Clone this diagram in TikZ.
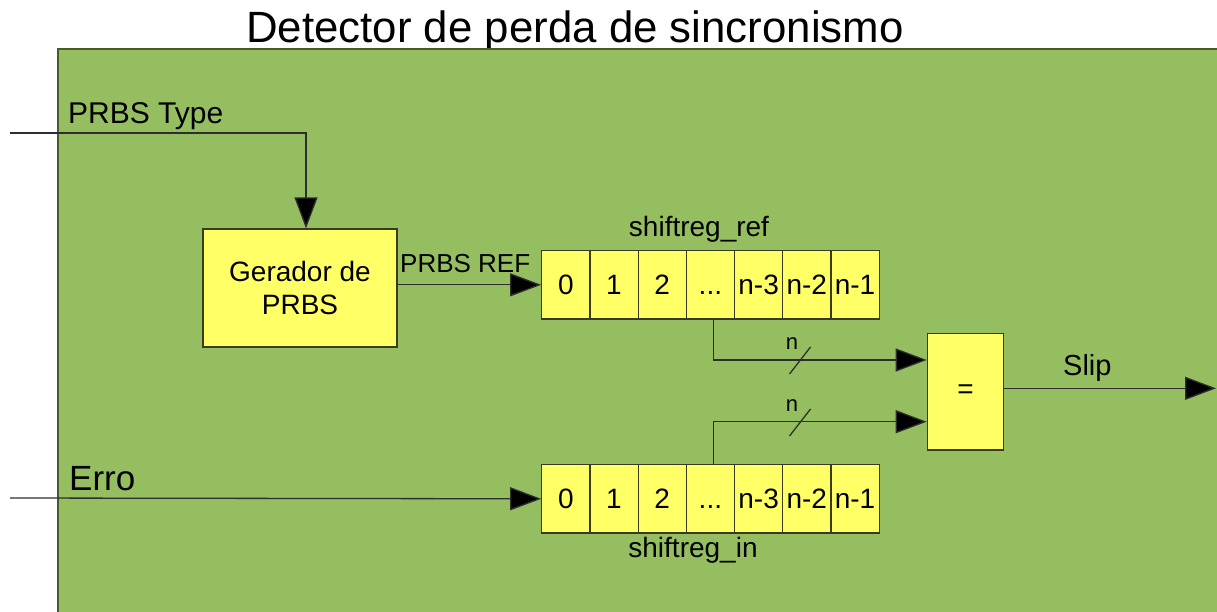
\documentclass[tikz,border=0pt]{standalone}
\usepackage{fontspec}
\setmainfont{Liberation Sans}
\usepackage{xcolor}
\usepackage{tikz}
\usetikzlibrary{arrows.meta, positioning, calc}

\definecolor{panelgreen}{HTML}{95BE60}
\definecolor{paneledge}{HTML}{4C5A2A}
\definecolor{blockyellow}{HTML}{FFFF66}
\definecolor{blockedge}{HTML}{3A3A1E}
\definecolor{wire}{HTML}{2E2E2E}
\newcommand{\pxfont}[2]{\fontsize{#1}{#2}\selectfont}

\begin{document}
\begin{tikzpicture}[x=1pt, y=-1pt,
    panel/.style={draw=paneledge, line width=2pt, fill=panelgreen},
    block/.style={rectangle, draw=blockedge, line width=1.2pt, fill=blockyellow, align=center, inner sep=0pt, font=\pxfont{28}{33}},
    cell/.style={rectangle, draw=blockedge, line width=1.2pt, fill=blockyellow, inner sep=0pt, minimum width=48.2pt, minimum height=68.3pt, text height=20pt, text depth=0pt, font=\pxfont{28}{32}},
    sig/.style={inner sep=0pt, anchor=base west},
    arrow/.style={draw=wire, line width=1.3pt, -{Triangle[length=31pt, width=23pt, fill=black]}},
    busmark/.style={draw=wire, line width=1.3pt}
]
\clip (0,0) rectangle (1217,611);

% Title and system panel
\node[inner sep=0pt, anchor=base, font=\pxfont{43.8}{48}] (title) at (575,42) {Detector de perda de sincronismo};
\draw[panel] (58,49) rectangle (1250,650);

% Inputs
\coordinate (typein) at (10,133);
\coordinate (erroin) at (10,498);
\node[sig, font=\pxfont{30}{34}] (typelbl) at (68,123) {PRBS Type};
\node[sig, font=\pxfont{35}{40}] (errolbl) at (69,490) {Erro};

% PRBS generator
\node[block, minimum width=194pt, minimum height=118pt] (gen) at (300,288) {Gerador de\\PRBS};

% Reference shift register
\node[cell] (sr0) at (565.8,284.8) {0};
\node[cell] (sr1) at (614.0,284.8) {1};
\node[cell] (sr2) at (662.2,284.8) {2};
\node[cell] (sr3) at (710.4,284.8) {...};
\node[cell] (sr4) at (758.6,284.8) {n-3};
\node[cell] (sr5) at (806.8,284.8) {n-2};
\node[cell] (sr6) at (855.0,284.8) {n-1};
\node[inner sep=0pt, anchor=base, font=\pxfont{28}{32}] (srlbl) at (699,236) {shiftreg\_ref};

% Input shift register
\node[cell] (si0) at (565.8,498.8) {0};
\node[cell] (si1) at (614.0,498.8) {1};
\node[cell] (si2) at (662.2,498.8) {2};
\node[cell] (si3) at (710.4,498.8) {...};
\node[cell] (si4) at (758.6,498.8) {n-3};
\node[cell] (si5) at (806.8,498.8) {n-2};
\node[cell] (si6) at (855.0,498.8) {n-1};
\node[inner sep=0pt, anchor=base, font=\pxfont{28}{32}] (silbl) at (693,557) {shiftreg\_in};

% Comparator
\node[block, minimum width=76.4pt, minimum height=116.7pt] (cmp) at (965.5,391.7) {=};
\coordinate (slipout) at (1216,388.3);
\node[sig, font=\pxfont{29}{33}] (sliplbl) at (1063,375) {Slip};

% Connections
\draw[arrow] (typein) -| ([xshift=6pt]gen.north);
\draw[arrow] (gen.east |- sr0.west) -- (sr0.west);
\node[sig, font=\pxfont{26}{30}] (reflbl) at (400,272) {PRBS REF};
\draw[arrow] (erroin) -- (si0.west);
\draw[arrow] ([xshift=3pt]sr3.south) |- ([yshift=31.7pt]cmp.west);
\draw[arrow] ([xshift=3pt]si3.north) |- ([yshift=-30pt]cmp.west);
\draw[arrow] (cmp.east |- slipout) -- (slipout);

% Bus width marks
\coordinate (bus1) at (800,360.5);
\coordinate (bus2) at (800,422.5);
\draw[busmark] ([shift={(-10.5,13.5)}]bus1) -- ([shift={(10.5,-13.5)}]bus1);
\draw[busmark] ([shift={(-10.5,13.5)}]bus2) -- ([shift={(10.5,-13.5)}]bus2);
\node[inner sep=0pt, anchor=base, font=\pxfont{22}{26}] (n1) at (792,349) {n};
\node[inner sep=0pt, anchor=base, font=\pxfont{22}{26}] (n2) at (792,411.5) {n};
\end{tikzpicture}
\end{document}
